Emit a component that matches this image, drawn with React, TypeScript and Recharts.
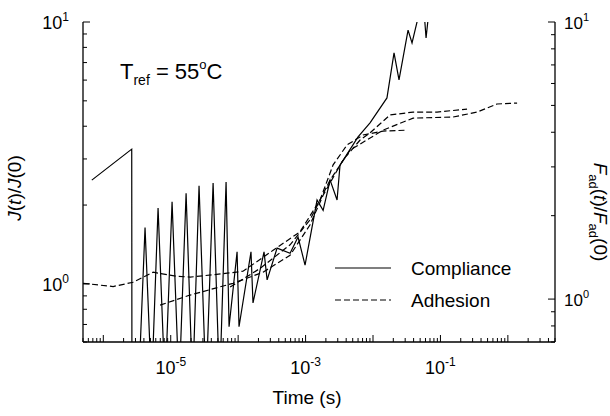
import React from "react";
import { LineChart, Line, XAxis, YAxis } from "recharts";

// ---- data (time in s) ----
const complianceTime = [
  6.75e-7, 2.64e-6, 2.66e-6, 3.33e-6, 4.16e-6, 5.2e-6, 6.49e-6, 8.24e-6, 1.047e-5, 1.33e-5,
  1.69e-5, 2.11e-5, 2.63e-5, 3.34e-5, 4.25e-5, 5.3e-5, 6.62e-5, 7.33e-5, 9.64e-5, 1.03e-4,
  1.55e-4, 1.66e-4, 2.42e-4, 2.69e-4, 3.78e-4, 5.89e-4, 7.73e-4, 9.82e-4, 1.48e-3, 1.82e-3,
  2.31e-3, 2.93e-3, 3.24e-3, 6.0e-3, 9.03e-3, 1.61e-2, 2.05e-2, 2.43e-2, 3.31e-2, 3.79e-2,
  4.66e-2, 5.71e-2, 6.12e-2, 7.0e-2, 0.1,
];
const complianceValue = [
  2.49, 3.27, 0.35, 0.4, 1.64, 0.4, 1.95, 0.4, 2.06, 0.4,
  2.22, 0.4, 2.37, 0.4, 2.43, 0.4, 2.45, 0.686, 1.325, 0.686,
  1.325, 0.846, 1.325, 1.036, 1.37, 1.31, 1.51, 1.18, 2.09, 1.91,
  2.49, 2.09, 2.84, 3.64, 4.12, 5.13, 7.62, 6.01, 9.31, 8.32,
  10.4, 11, 8.69, 12, 14,
];

const adhesionATime = [5.01e-7, 1.4e-6, 2.76e-6, 5.47e-6, 1.2e-5, 1.94e-5, 6.86e-5, 1.18e-4, 3.3e-4, 8.28e-4, 1.64e-3, 2.56e-3, 4.12e-3, 7.11e-3, 1.41e-2, 3.2e-2];
const adhesionAValue = [1.14, 1.11, 1.15, 1.25, 1.21, 1.2, 1.24, 1.26, 1.5, 1.75, 2.28, 3.05, 3.6, 3.91, 4.04, 4.07];

const adhesionBTime = [6.95e-6, 1.94e-5, 8.4e-5, 2.34e-4, 5.89e-4, 1.16e-3, 1.82e-3, 3.6e-3, 6.43e-3, 9.03e-3, 1.79e-2, 3.93e-2, 8.91e-2, 0.248];
const adhesionBValue = [0.951, 1.034, 1.14, 1.25, 1.44, 1.85, 2.37, 3.18, 3.75, 3.98, 4.62, 4.73, 4.73, 4.85];

const adhesionCTime = [7.59e-5, 2.11e-4, 5.89e-4, 1.16e-3, 2.31e-3, 4.57e-3, 1.41e-2, 3.93e-2, 0.154, 0.349, 0.692, 1.37];
const adhesionCValue = [1.105, 1.29, 1.57, 1.93, 2.69, 3.45, 4.07, 4.5, 4.54, 4.73, 5.06, 5.1];

const xDomain = [5e-7, 5];
const leftDomain = [0.6, 10];
const rightDomain = [0.7, 10];
const xLabeledExponents = [-5, -3, -1];
const yLabeledExponents = [0, 1];

const FONT = "'Liberation Sans', Arial, Helvetica, sans-serif";

const zip = (t: number[], v: number[]) => t.map((x, i) => ({ t: x, v: v[i] }));
const complianceData = zip(complianceTime, complianceValue);
const adhesionSeries = [
  zip(adhesionATime, adhesionAValue),
  zip(adhesionBTime, adhesionBValue),
  zip(adhesionCTime, adhesionCValue),
];

const logTicks = (lo: number, hi: number) => {
  const out: number[] = [];
  for (let e = Math.floor(Math.log10(lo)); e <= Math.ceil(Math.log10(hi)); e++) {
    for (let m = 1; m <= 9; m++) {
      const v = m * Math.pow(10, e);
      if (v >= lo * 0.9999 && v <= hi * 1.0001) out.push(v);
    }
  }
  return out;
};

const majorExp = (v: number) => {
  const l = Math.log10(v);
  const e = Math.round(l);
  return Math.abs(l - e) < 1e-6 ? e : null;
};

const XTick = (props: any) => {
  const { x, y, payload } = props;
  const e = majorExp(payload.value);
  const len = e !== null ? 7 : 4;
  return (
    <g>
      <line x1={x} x2={x} y1={y} y2={y - len} stroke="#000" strokeWidth={1} />
      {e !== null && xLabeledExponents.includes(e) && (
        <text x={x} y={y + 32} textAnchor="middle" fontSize={18} fontFamily={FONT} fill="#000">
          10<tspan dy={-8} fontSize={12}>{e}</tspan>
        </text>
      )}
    </g>
  );
};

const LeftTick = (props: any) => {
  const { x, y, payload } = props;
  const e = majorExp(payload.value);
  const len = e !== null ? 7 : 4;
  return (
    <g>
      <line x1={x} x2={x + len} y1={y} y2={y} stroke="#000" strokeWidth={1} />
      {e !== null && yLabeledExponents.includes(e) && (
        <text x={x - 14} y={y + 7} textAnchor="end" fontSize={18} fontFamily={FONT} fill="#000">
          10<tspan dy={-8} fontSize={12}>{e}</tspan>
        </text>
      )}
    </g>
  );
};

const RightTick = (props: any) => {
  const { x, y, payload } = props;
  const e = majorExp(payload.value);
  const len = e !== null ? 7 : 4;
  return (
    <g>
      <line x1={x} x2={x - len} y1={y} y2={y} stroke="#000" strokeWidth={1} />
      {e !== null && yLabeledExponents.includes(e) && (
        <text x={x + 9} y={y + 7} textAnchor="start" fontSize={17} fontFamily={FONT} fill="#000">
          10<tspan dy={-8} fontSize={11}>{e}</tspan>
        </text>
      )}
    </g>
  );
};

const legendItems = [
  { name: "Compliance", dash: undefined as string | undefined },
  { name: "Adhesion", dash: "6 3" },
];

export default function App() {
  return (
    <div style={{ position: "absolute", left: 0, top: 0, width: 610, height: 416, background: "#fff" }}>
      <LineChart
        width={610}
        height={416}
        margin={{ top: 22, right: 15, bottom: 24, left: 23 }}
      >
        <XAxis
          xAxisId="b"
          dataKey="t"
          type="number"
          scale="log"
          domain={xDomain}
          allowDataOverflow
          ticks={logTicks(xDomain[0], xDomain[1])}
          interval={0}
          tickSize={0}
          tickMargin={0}
          tickLine={false}
          tick={(p: any) => <XTick {...p} />}
          axisLine={{ stroke: "#000", strokeWidth: 1.3 }}
          height={50}
        />
        <XAxis
          xAxisId="top"
          orientation="top"
          dataKey="t"
          type="number"
          scale="log"
          domain={xDomain}
          allowDataOverflow
          tick={false}
          tickLine={false}
          axisLine={{ stroke: "#000", strokeWidth: 1.3 }}
          height={0}
        />
        <YAxis
          yAxisId="J"
          orientation="left"
          type="number"
          scale="log"
          domain={leftDomain}
          allowDataOverflow
          ticks={logTicks(leftDomain[0], leftDomain[1])}
          interval={0}
          tickSize={0}
          tickMargin={0}
          tickLine={false}
          tick={(p: any) => <LeftTick {...p} />}
          axisLine={{ stroke: "#000", strokeWidth: 1.3 }}
          width={60}
        />
        <YAxis
          yAxisId="F"
          orientation="right"
          type="number"
          scale="log"
          domain={rightDomain}
          allowDataOverflow
          ticks={logTicks(rightDomain[0], rightDomain[1])}
          interval={0}
          tickSize={0}
          tickMargin={0}
          tickLine={false}
          tick={(p: any) => <RightTick {...p} />}
          axisLine={{ stroke: "#000", strokeWidth: 1.3 }}
          width={40}
        />
        {adhesionSeries.map((d, i) => (
          <Line
            key={"a" + i}
            data={d}
            xAxisId="b"
            yAxisId="F"
            dataKey="v"
            type="linear"
            stroke="#000"
            strokeWidth={1.2}
            strokeDasharray="6 3"
            dot={false}
            isAnimationActive={false}
            name="Adhesion"
          />
        ))}
        <Line
          data={complianceData}
          xAxisId="b"
          yAxisId="J"
          dataKey="v"
          type="linear"
          stroke="#000"
          strokeWidth={1.2}
          dot={false}
          isAnimationActive={false}
          name="Compliance"
        />
      </LineChart>
      <svg
        width={610}
        height={416}
        style={{ position: "absolute", left: 0, top: 0, pointerEvents: "none" }}
      >
        <text x={120} y={79} fontSize={22} fontFamily={FONT} fill="#000">
          T<tspan dy={6} fontSize={14}>ref</tspan>
          <tspan dy={-6}> = 55</tspan>
          <tspan dy={-10} fontSize={13}>o</tspan>
          <tspan dy={10}>C</tspan>
        </text>
        {legendItems.map((it, i) => (
          <g key={it.name}>
            <line x1={335} x2={391} y1={268 + i * 32} y2={268 + i * 32} stroke="#000" strokeWidth={1.2} strokeDasharray={it.dash} />
            <text x={411} y={275 + i * 32} fontSize={19} fontFamily={FONT} fill="#000">{it.name}</text>
          </g>
        ))}
        <text x={307} y={404} textAnchor="middle" fontSize={19} fontFamily={FONT} fill="#000">Time (s)</text>
        <text transform="translate(21,188) rotate(-90)" textAnchor="middle" fontSize={19} fontFamily={FONT} fill="#000">
          <tspan fontStyle="italic">J</tspan>(<tspan fontStyle="italic">t</tspan>)/<tspan fontStyle="italic">J</tspan>(0)
        </text>
        <text transform="translate(594,212) rotate(90)" textAnchor="middle" fontSize={19} fontFamily={FONT} fill="#000">
          <tspan fontStyle="italic">F</tspan>
          <tspan dy={5} fontSize={13}>ad</tspan>
          <tspan dy={-5}>(</tspan><tspan fontStyle="italic">t</tspan>)/<tspan fontStyle="italic">F</tspan>
          <tspan dy={5} fontSize={13}>ad</tspan>
          <tspan dy={-5}>(0)</tspan>
        </text>
      </svg>
    </div>
  );
}
